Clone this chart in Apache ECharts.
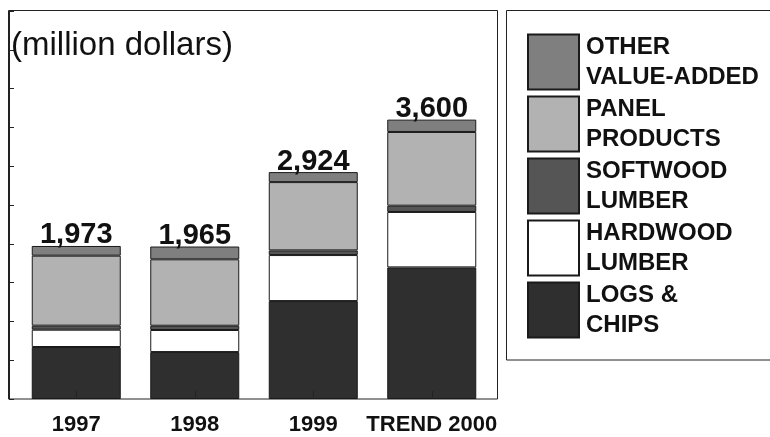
<!DOCTYPE html>
<html lang="en">
<head>
    <meta charset="UTF-8">
    <title>Wood products value</title>
    <style>
        html, body { margin: 0; padding: 0; background: #fff; }
        #chart { width: 770px; height: 437px; }
    </style>
</head>
<body>
    <script src="https://cdn.jsdelivr.net/npm/echarts@6/dist/echarts.min.js"></script>
    <div id="chart"></div>
    <script>
        // data (million dollars)
        var years = ['1997', '1998', '1999', 'TREND 2000'];
        var logsChips = [670, 605, 1262, 1696];
        var hardwood = [223, 284, 593, 714];
        var softwood = [52, 55, 60, 81];
        var panel = [902, 856, 880, 950];
        var otherVA = [125, 165, 129, 159];
        var totals = [1973, 1965, 2924, 3600];

        var font = '"Liberation Sans", Arial, sans-serif';

        function bar(name, data, color) {
            return {
                name: name,
                type: 'bar',
                stack: 'all',
                barWidth: 89,
                data: data,
                itemStyle: { color: color, borderColor: '#1a1a1a', borderWidth: 1 }
            };
        }

        var mCharts = echarts.init(document.getElementById('chart'));
        var otherSeries = bar('OTHER\nVALUE-ADDED', otherVA, '#7f7f7f');
        // totals printed above the top segment
        otherSeries.label = {
            show: true,
            position: 'top',
            distance: -4,
            fontFamily: font,
            fontSize: 29,
            fontWeight: 'bold',
            color: '#111',
            formatter: function (p) {
                return totals[p.dataIndex].toLocaleString('en-US');
            }
        };

        var option = {
            animation: false,
            title: {
                text: '(million dollars)',
                left: 6,
                top: 24,
                textStyle: { fontFamily: font, fontSize: 33, fontWeight: 'normal', color: '#111' }
            },
            grid: { left: 17, right: 279, top: 11, bottom: 38 },
            legend: {
                orient: 'vertical',
                left: 527,
                top: 29,
                padding: 0,
                itemWidth: 51,
                itemHeight: 55,
                itemGap: -4,
                icon: 'rect',
                data: ['OTHER\nVALUE-ADDED', 'PANEL\nPRODUCTS', 'SOFTWOOD\nLUMBER', 'HARDWOOD\nLUMBER', 'LOGS &\nCHIPS'],
                textStyle: {
                    fontFamily: font, fontSize: 24, fontWeight: 'bold', color: '#111',
                    lineHeight: 30, padding: [6, 0, 0, 2]
                }
            },
            xAxis: {
                type: 'category',
                data: years,
                z: 5,
                axisLine: { show: false },
                axisTick: { show: true, inside: true, length: 8, alignWithLabel: true, lineStyle: { color: '#222' } },
                axisLabel: { interval: 0, fontFamily: font, fontSize: 22, fontWeight: 'bold', color: '#111', margin: 15 }
            },
            yAxis: {
                type: 'value',
                min: 0,
                max: 5000,
                interval: 500,
                offset: 8,
                axisLine: { show: true, lineStyle: { color: '#222' } },
                axisTick: { show: true, inside: true, length: 5, lineStyle: { color: '#222' } },
                axisLabel: { show: false },
                splitLine: { show: false }
            },
            graphic: [
                {
                    type: 'rect',
                    shape: { x: 8.5, y: 10.5, width: 489, height: 388.5 },
                    style: { fill: 'none', stroke: '#222', lineWidth: 1 },
                    silent: true
                },
                {
                    type: 'rect',
                    shape: { x: 506.5, y: 10.5, width: 270, height: 349.5 },
                    style: { fill: 'none', stroke: '#222', lineWidth: 1 },
                    silent: true
                }
            ],
            series: [
                bar('LOGS &\nCHIPS', logsChips, '#2f2f2f'),
                bar('HARDWOOD\nLUMBER', hardwood, '#ffffff'),
                bar('SOFTWOOD\nLUMBER', softwood, '#555555'),
                bar('PANEL\nPRODUCTS', panel, '#b2b2b2'),
                otherSeries
            ]
        };
        mCharts.setOption(option);
    </script>
</body>
</html>
